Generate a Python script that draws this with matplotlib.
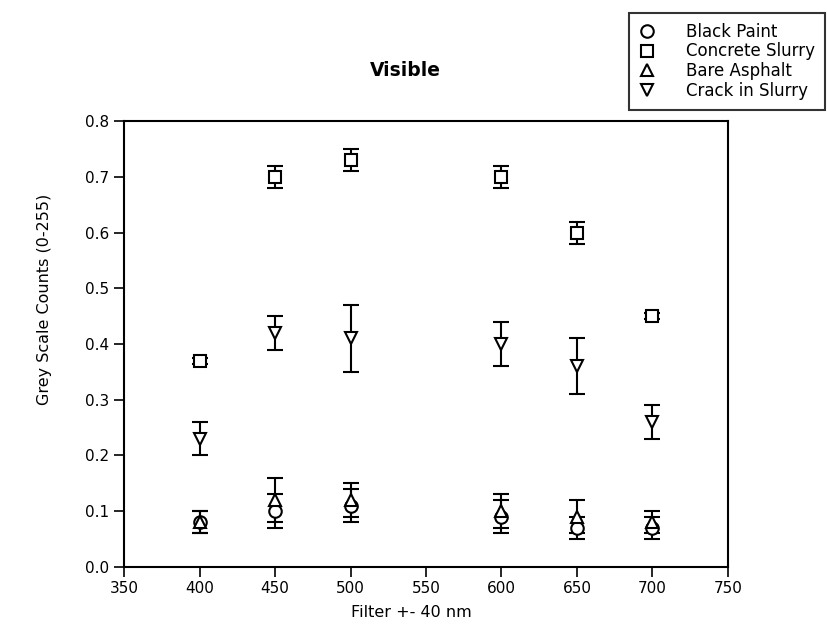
import matplotlib.pyplot as plt
import numpy as np

plt.rcParams['font.family'] = ['DejaVu Sans']

# filter centre wavelengths (nm)
wavelength = [400, 450, 500, 600, 650, 700]

# grey scale counts and error bars
black_paint = [0.08, 0.10, 0.11, 0.09, 0.07, 0.07]
black_paint_err = [0.02, 0.03, 0.03, 0.03, 0.02, 0.02]

concrete_slurry = [0.37, 0.70, 0.73, 0.70, 0.60, 0.45]
concrete_slurry_err = [0.005, 0.02, 0.02, 0.02, 0.02, 0.005]

bare_asphalt = [0.08, 0.12, 0.12, 0.10, 0.09, 0.08]
bare_asphalt_err = [0.02, 0.04, 0.03, 0.03, 0.03, 0.02]

crack_slurry = [0.23, 0.42, 0.41, 0.40, 0.36, 0.26]
crack_slurry_err = [0.03, 0.03, 0.06, 0.04, 0.05, 0.03]

series = [
    ('Black Paint', black_paint, black_paint_err, 'o'),
    ('Concrete Slurry', concrete_slurry, concrete_slurry_err, 's'),
    ('Bare Asphalt', bare_asphalt, bare_asphalt_err, '^'),
    ('Crack in Slurry', crack_slurry, crack_slurry_err, 'v'),
]

fig = plt.figure(figsize=(8.28, 6.25), dpi=100)
ax = fig.add_axes([0.150, 0.093, 0.729, 0.713])

handles = []
for name, vals, err, mk in series:
    ax.errorbar(wavelength, vals, yerr=err, fmt='none', ecolor='black',
                elinewidth=1.5, capsize=6, capthick=1.5, zorder=2)
    h, = ax.plot(wavelength, vals, linestyle='none', marker=mk, markersize=9,
                 markerfacecolor='white', markeredgecolor='black',
                 markeredgewidth=1.5, zorder=3, label=name)
    handles.append(h)

ax.set_xlim(350, 750)
ax.set_ylim(0.0, 0.8)
ax.set_xticks(np.arange(350, 751, 50))
ax.set_yticks(np.arange(0.0, 0.81, 0.1))
ax.set_yticklabels(['%.1f' % v for v in np.arange(0.0, 0.81, 0.1)])
ax.tick_params(direction='out', length=7, width=1.2, labelsize=11,
               top=False, right=False)
for sp in ax.spines.values():
    sp.set_linewidth(1.5)

ax.set_xlabel('Filter +- 40 nm', fontsize=11.5)
ax.xaxis.set_label_coords(0.475, -0.085)
ax.set_ylabel('Grey Scale Counts (0-255)', fontsize=11.5)
ax.yaxis.set_label_coords(-0.12, 0.6)

fig.text(0.49, 0.887, 'Visible', fontsize=13.5, fontweight='bold',
         ha='center', va='center')

leg = fig.legend(handles=handles, loc='upper right',
                 bbox_to_anchor=(1.0, 0.985), fontsize=12,
                 frameon=True, fancybox=False, edgecolor='black',
                 handlelength=1.0, handletextpad=1.8, borderpad=0.6,
                 labelspacing=0.1, borderaxespad=0.2)
leg.get_frame().set_linewidth(1.5)

plt.savefig('out.png', dpi=100)
plt.close()
